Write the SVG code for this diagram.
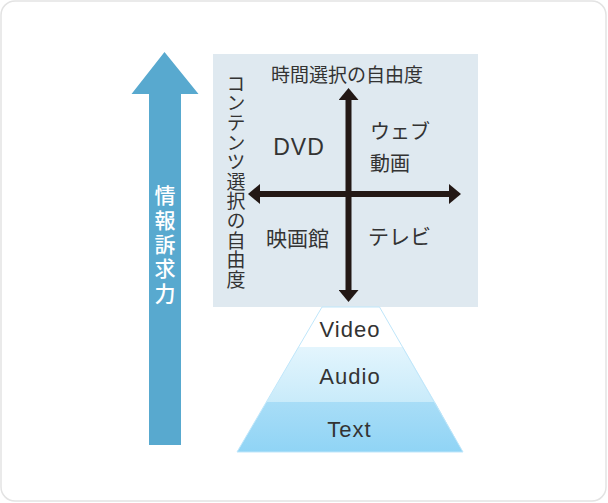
<svg xmlns="http://www.w3.org/2000/svg" width="608" height="503" viewBox="0 0 608 503">
<style>
.jp{font-family:"Noto Sans CJK JP","Noto Sans",sans-serif;fill:#333;}
.en{font-family:"Liberation Sans",Arial,sans-serif;fill:#333;letter-spacing:1px;}
.ax{stroke:#231815;stroke-width:6;fill:none;}
</style>
<defs>
<linearGradient id="gA" x1="0" y1="0" x2="0" y2="1">
<stop offset="0" stop-color="#e3f5fd"/>
<stop offset="1" stop-color="#c9ebfa"/>
</linearGradient>
<linearGradient id="gT" x1="0" y1="0" x2="0" y2="1">
<stop offset="0" stop-color="#a8ddf7"/>
<stop offset="1" stop-color="#90d4f5"/>
</linearGradient>
<marker id="ah" viewBox="0 0 12 20" refX="2" refY="10" markerWidth="12" markerHeight="20" markerUnits="userSpaceOnUse" orient="auto-start-reverse">
<path d="M0,0 L12,10 L0,20 Z" fill="#231815"/>
</marker>
</defs>
<rect x="1" y="1" width="605" height="500" rx="14" fill="#fff" stroke="#e3e3e3" stroke-width="1.5"/>

<g id="appeal-arrow">
<path d="M164.5,52 L198.5,94 L181,94 L181,445 L149,445 L149,94 L131.5,94 Z" fill="#58a9cf"/>
<text class="jp" x="165" y="185" style="writing-mode:vertical-rl;font-size:21px;letter-spacing:3.3px;fill:#fff;font-weight:500">情報訴求力</text>
</g>

<g id="matrix-panel">
<rect x="213" y="54" width="265" height="253" fill="#dfe9f0"/>
<text class="jp" x="347" y="82" text-anchor="middle" style="font-size:19px">時間選択の自由度</text>
<text class="jp" x="236" y="74" style="writing-mode:vertical-rl;font-size:19px;letter-spacing:0.6px">コンテンツ選択の自由度</text>
</g>

<g id="connectors">
<line class="ax" x1="348.5" y1="98" x2="348.5" y2="292" marker-start="url(#ah)" marker-end="url(#ah)"/>
<line class="ax" x1="258" y1="194" x2="451" y2="194" marker-start="url(#ah)" marker-end="url(#ah)"/>
</g>

<g id="q-dvd"><text class="en" x="299" y="155" text-anchor="middle" style="font-size:23px">DVD</text></g>
<g id="q-web"><text class="jp" x="370" y="138.5" style="font-size:20px">ウェブ</text><text class="jp" x="370" y="170.5" style="font-size:20px">動画</text></g>
<g id="q-cinema"><text class="jp" x="266" y="245.5" style="font-size:21px">映画館</text></g>
<g id="q-tv"><text class="jp" x="368" y="244" style="font-size:21px">テレビ</text></g>

<g id="pyramid">
<polygon points="322,307 379.5,307 403,347 298.5,347" fill="#fff"/>
<polygon points="298.5,347 403,347 435,402 266.5,402" fill="url(#gA)"/>
<polygon points="266.5,402 435,402 463,452 237,452" fill="url(#gT)"/>
<polygon points="322,307 379.5,307 463,452 237,452" fill="none" stroke="#bfe6fa" stroke-width="1"/>
<text class="en" x="350" y="337" text-anchor="middle" style="font-size:22px">Video</text>
<text class="en" x="350" y="384" text-anchor="middle" style="font-size:22px">Audio</text>
<text class="en" x="349.5" y="437" text-anchor="middle" style="font-size:22px">Text</text>
</g>
</svg>
